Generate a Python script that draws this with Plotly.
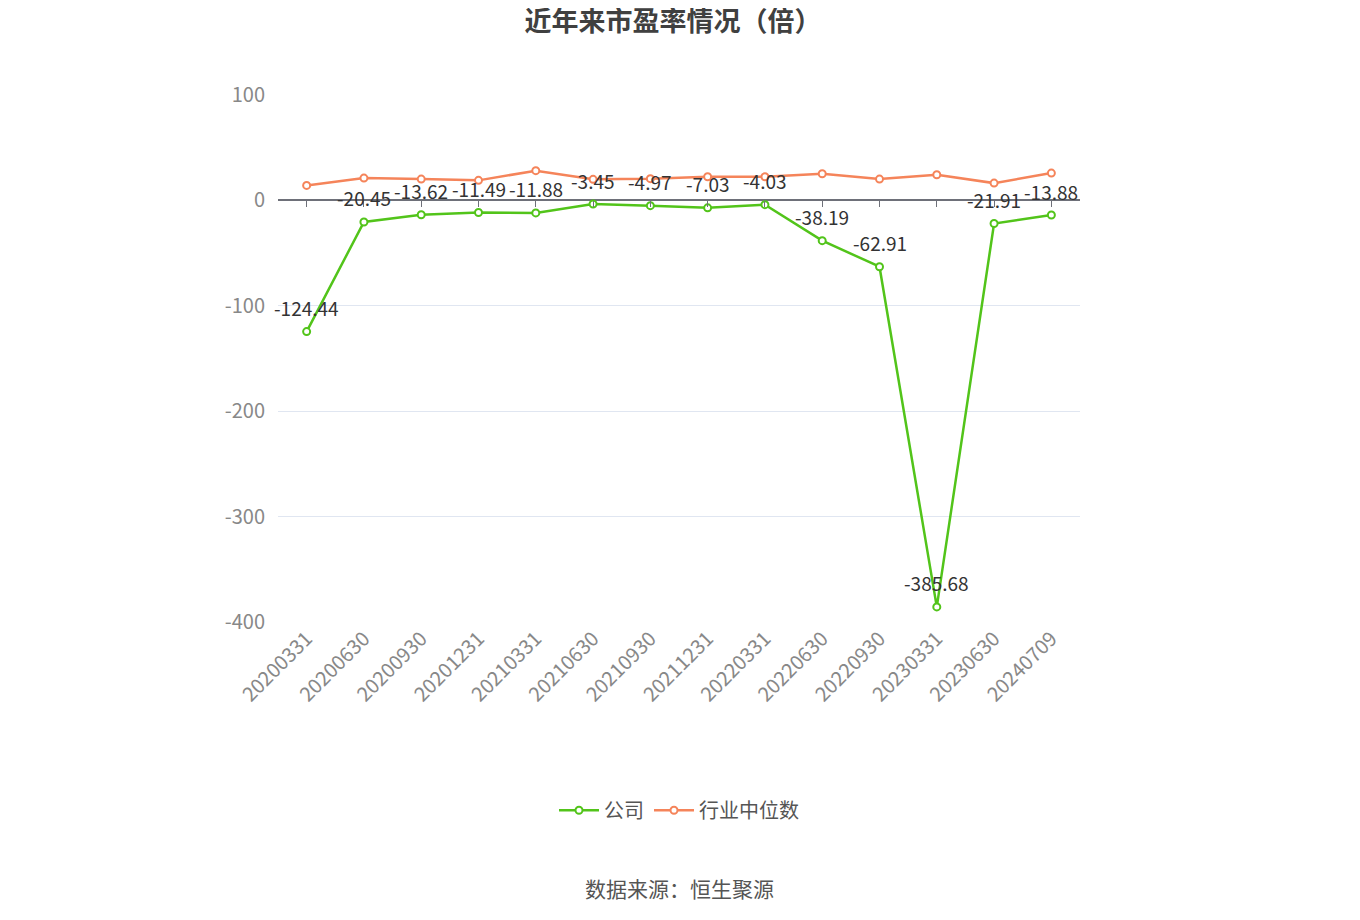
import plotly.graph_objects as go

dates = ["20200331", "20200630", "20200930", "20201231", "20210331", "20210630", "20210930",
         "20211231", "20220331", "20220630", "20220930", "20230331", "20230630", "20240709"]
company = [-124.44, -20.45, -13.62, -11.49, -11.88, -3.45, -4.97, -7.03, -4.03, -38.19, -62.91,
           -385.68, -21.91, -13.88]
industry = [14.2, 21.2, 20.2, 19.0, 28.2, 20.0, 20.6, 22.4, 22.4, 25.3, 20.2, 24.3, 16.4, 25.9]
y_ticks = [-400, -300, -200, -100, 0, 100]
y_tick_text = ["-400", "-300", "-200", "-100", "0", "100"]

green = "#52c41a"
orange = "#f5845a"
font = "Noto Sans CJK SC"

fig = go.Figure()
fig.add_trace(go.Scatter(
    x=dates, y=company, name="公司", mode="lines+markers",
    line=dict(color=green, width=2.5),
    marker=dict(symbol="circle", size=7, color="white", line=dict(color=green, width=2)),
))
# industry series sits on the second x axis, which carries the tick marks at y=0
fig.add_trace(go.Scatter(
    x=dates, y=industry, name="行业中位数", mode="lines+markers", xaxis="x2",
    line=dict(color=orange, width=2.5),
    marker=dict(symbol="circle", size=7, color="white", line=dict(color=orange, width=2)),
))

# value labels above the company points (x given as category index)
labels = [dict(x=i, y=v, text=f"{v:.2f}", showarrow=False, yshift=24, xref="x", yref="y",
               font=dict(size=19, color="#333333", family=font))
          for i, v in enumerate(company)]
labels.append(dict(text="数据来源：恒生聚源", x=0.5, xref="paper", y=-0.505, yref="paper",
                   xanchor="center", yanchor="middle", showarrow=False,
                   font=dict(size=21, color="#555555", family=font)))

fig.update_layout(
    width=1360, height=920,
    paper_bgcolor="white", plot_bgcolor="white",
    font=dict(family=font, color="#888888"),
    title=dict(text="<b>近年来市盈率情况（倍）</b>", x=0.489, xanchor="center",
               y=0.985, yref="container", yanchor="middle",
               font=dict(size=27, color="#404040")),
    margin=dict(l=270, r=288, t=87, b=306, autoexpand=False),
    showlegend=True,
    legend=dict(orientation="h", x=0.5, xanchor="center", y=0.128, yref="container",
                yanchor="middle", font=dict(size=20, color="#555555"), itemwidth=40),
    annotations=labels,
    xaxis=dict(type="category", range=[-0.5, 13.5], showgrid=False, showline=False,
               ticks="", tickangle=-45, tickfont=dict(size=20, color="#888888"),
               zeroline=False),
    xaxis2=dict(overlaying="x", anchor="free", position=0.8, type="category",
                range=[-0.5, 13.5], ticks="outside", ticklen=6, tickcolor="#6e7079",
                showticklabels=False, showgrid=False, showline=False, zeroline=False),
    yaxis=dict(range=[-400, 100], tickvals=y_ticks, ticktext=y_tick_text,
               showgrid=True, gridcolor="#e0e6f1", gridwidth=1,
               zeroline=True, zerolinecolor="#6e7079", zerolinewidth=1.5,
               tickfont=dict(size=20, color="#888888"), ticks="", ticklabelstandoff=12),
)

fig.write_html("out.html")
